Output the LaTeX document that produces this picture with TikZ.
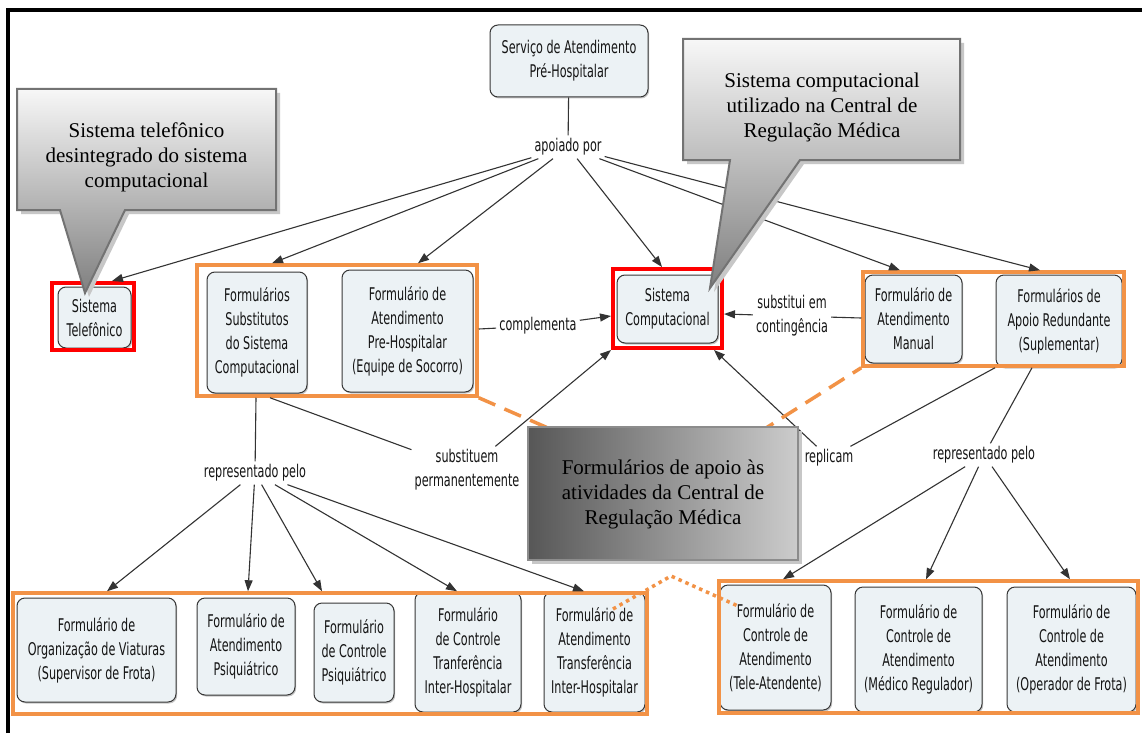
\documentclass[tikz,border=0pt]{standalone}
\usepackage{fontspec}
\setmainfont{Liberation Serif}
\setsansfont{DejaVu Sans}[FakeStretch=0.64]
\usetikzlibrary{arrows.meta,calc,shadows}
\definecolor{ora}{RGB}{242,146,70}
\definecolor{nfill}{RGB}{236,242,245}
\definecolor{nline}{RGB}{55,55,55}
\begin{document}
\begin{tikzpicture}[x=1pt,y=-1pt,
  concept/.style={draw=nline, line width=1pt, fill=nfill, rounded corners=8pt, align=center, inner sep=2pt,
    font=\sffamily\fontsize{17.5}{24}\selectfont, text=black!92,
    drop shadow={shadow xshift=1.2pt, shadow yshift=-1.5pt, fill=black!45}},
  lbl/.style={align=center, inner sep=3pt, font=\sffamily\fontsize{17.5}{24}\selectfont, text=black!92},
  obox/.style={draw=ora, line width=3.5pt, inner sep=0pt},
  rbox/.style={draw=red, line width=4pt, inner sep=0pt},
  conn/.style={draw=black!80, line width=1.1pt},
  arr/.style={conn, -{Triangle[length=11pt,width=8pt]}},
  ctext/.style={align=center, font=\fontsize{21}{25}\selectfont, text=black},
  cshape/.style={draw=black!55, line width=2pt, top color=white!97!black, bottom color=black!50},
  cshadow/.style={fill=black!22},
  odash/.style={draw=ora, line width=3.5pt, dash pattern=on 18pt off 10pt},
  odot/.style={draw=ora, line width=3.5pt, dash pattern=on 3.5pt off 4pt},
]
\useasboundingbox (0,0) rectangle (1142,733);
\fill[white] (0,0) rectangle (1142,733);
\draw[line width=4pt] (8,733) -- (8,10) -- (1142,10);

% top concepts
\node[concept, minimum width=158, minimum height=72] (serv) at (569,61) {Serviço de Atendimento\\Pré-Hospitalar};
\node[concept, minimum width=73, minimum height=61] (tel) at (94.5,317.5) {Sistema\\Telefônico};
\node[rbox, minimum width=82, minimum height=67] (telf) at (93,316.5) {};
\node[concept, minimum width=100, minimum height=121] (subst) at (257,332.5) {Formulários\\Substitutos\\do Sistema\\Computacional};
\node[concept, minimum width=131, minimum height=122] (preh) at (407.5,331) {Formulário de\\Atendimento\\Pre-Hospitalar\\(Equipe de Socorro)};
\node[obox, minimum width=280, minimum height=131] (ob1) at (337,330.5) {};
\node[concept, minimum width=101, minimum height=68] (comp) at (667.5,309) {Sistema\\Computacional};
\node[rbox, minimum width=109, minimum height=79] (compf) at (667.5,308.5) {};
\node[concept, minimum width=97, minimum height=88] (man) at (913.5,319) {Formulário de\\Atendimento\\Manual};
\node[concept, minimum width=126, minimum height=92] (red) at (1059,321) {Formulários de\\Apoio Redundante\\(Suplementar)};
\node[obox, minimum width=261, minimum height=94] (ob2) at (993.5,319) {};

% bottom concepts
\node[concept, minimum width=159, minimum height=104] (b1) at (96.5,650) {Formulário de\\Organização de Viaturas\\(Supervisor de Frota)};
\node[concept, minimum width=98, minimum height=97] (b2) at (246,646.5) {Formulário de\\Atendimento\\Psiquiátrico};
\node[concept, minimum width=80, minimum height=99] (b3) at (354,652.5) {Formulário\\de Controle\\Psiquiátrico};
\node[concept, minimum width=106, minimum height=120] (b4) at (468,652) {Formulário\\de Controle\\Tranferência\\Inter-Hospitalar};
\node[concept, minimum width=101, minimum height=120] (b5) at (594.5,652) {Formulário de\\Atendimento\\Transferência\\Inter-Hospitalar};
\node[obox, minimum width=634, minimum height=121] (ob3) at (330,653.5) {};
\node[concept, minimum width=111, minimum height=125] (b6) at (775.5,647.5) {Formulário de\\Controle de\\Atendimento\\(Tele-Atendente)};
\node[concept, minimum width=127, minimum height=125] (b7) at (918.5,649.5) {Formulário de\\Controle de\\Atendimento\\(Médico Regulador)};
\node[concept, minimum width=129, minimum height=125] (b8) at (1071.5,649.5) {Formulário de\\Controle de\\Atendimento\\(Operador de Frota)};
\node[obox, minimum width=419, minimum height=132] (ob4) at (928.5,647) {};

% linking phrases
\node[lbl] (apoio) at (568,147) {apoiado por};
\node[lbl] (compl) at (538,326) {complementa};
\node[lbl] (subc) at (792,316) {substitui em\\contingência};
\node[lbl] (rep1) at (255,473) {representado pelo};
\node[lbl] (subp) at (467,470) {substituem\\permanentemente};
\node[lbl] (replic) at (829,458) {replicam};
\node[lbl] (rep2) at (984,455) {representado pelo};

% connectors
\draw[conn] (serv) -- (apoio);
\draw[arr] (apoio) -- (telf.north -| 112,0);
\draw[arr] (apoio) -- (ob1.north -| 272,0);
\draw[arr] (apoio) -- (ob1.north -| 418,0);
\draw[arr] (apoio) -- (compf.north -| 662,0);
\draw[arr] (apoio) -- (ob2.north -| 900,0);
\draw[arr] (apoio) -- (ob2.north -| 1040,0);

\draw[conn] (ob1.east |- 0,329) -- (compl);
\draw[arr] (compl) -- (compf.west |- 0,316);
\draw[conn] (ob2.west |- 0,318) -- (subc);
\draw[arr] (subc) -- (compf.east |- 0,314);

\draw[conn] (ob1.south -| 256,0) -- (rep1);
\draw[conn] (ob1.south -| 270,0) -- (subp);
\draw[arr] (subp) -- (compf.south west);
\draw[conn] (ob2.south -| 995,0) -- (replic);
\draw[arr] (replic) -- (compf.south -| 714,0);
\draw[conn] (ob2.south -| 1032,0) -- (rep2);

\draw[arr] (rep1) -- (ob3.north -| 107,0);
\draw[arr] (rep1) -- (ob3.north -| 248,0);
\draw[arr] (rep1) -- (ob3.north -| 322,0);
\draw[arr] (rep1) -- (ob3.north -| 457,0);
\draw[arr] (rep1) -- (ob3.north -| 584,0);
\draw[arr] (rep2) -- (ob4.north -| 783,0);
\draw[arr] (rep2) -- (ob4.north -| 926,0);
\draw[arr] (rep2) -- (ob4.north -| 1070,0);

% orange dashed / dotted links
\coordinate (dA) at (548,428);
\coordinate (dB) at (766,428);
\draw[odash] (ob1.south east) -- (dA);
\draw[odash, dash phase=8pt] (ob2.south west) -- (dB);
\coordinate (p1) at (613,609);
\coordinate (p2) at (671,576);
\coordinate (p3) at (738,606);
\draw[odot] (p1) -- (p2) -- (p3);

% callout 1
\path[cshadow, shift={(4,4)}] (17,89) -- (276,89) -- (276,210) -- (125,210) -- (85,293) -- (60,210) -- (17,210) -- cycle;
\path[cshape] (17,89) -- (276,89) -- (276,210) -- (125,210) -- (85,293) -- (60,210) -- (17,210) -- cycle;
\node[ctext] (c1) at (146.5,157) {Sistema telefônico\\desintegrado do sistema\\computacional};

% callout 2
\path[cshadow, shift={(4,4)}] (683,39) -- (960,39) -- (960,160) -- (800,160) -- (710,288) -- (730,160) -- (683,160) -- cycle;
\path[cshape] (683,39) -- (960,39) -- (960,160) -- (800,160) -- (710,288) -- (730,160) -- (683,160) -- cycle;
\node[ctext] (c2) at (822,107) {Sistema computacional\\utilizado na Central de\\Regulação Médica};

% callout 3
\path[cshadow] (532,431) rectangle (802,564);
\path[draw=black!45, line width=2pt, left color=black!66, right color=black!20] (528,427) rectangle (798,560);
\node[ctext] (c3) at (663,494) {Formulários de apoio às\\atividades da Central de\\Regulação Médica};
\end{tikzpicture}
\end{document}
